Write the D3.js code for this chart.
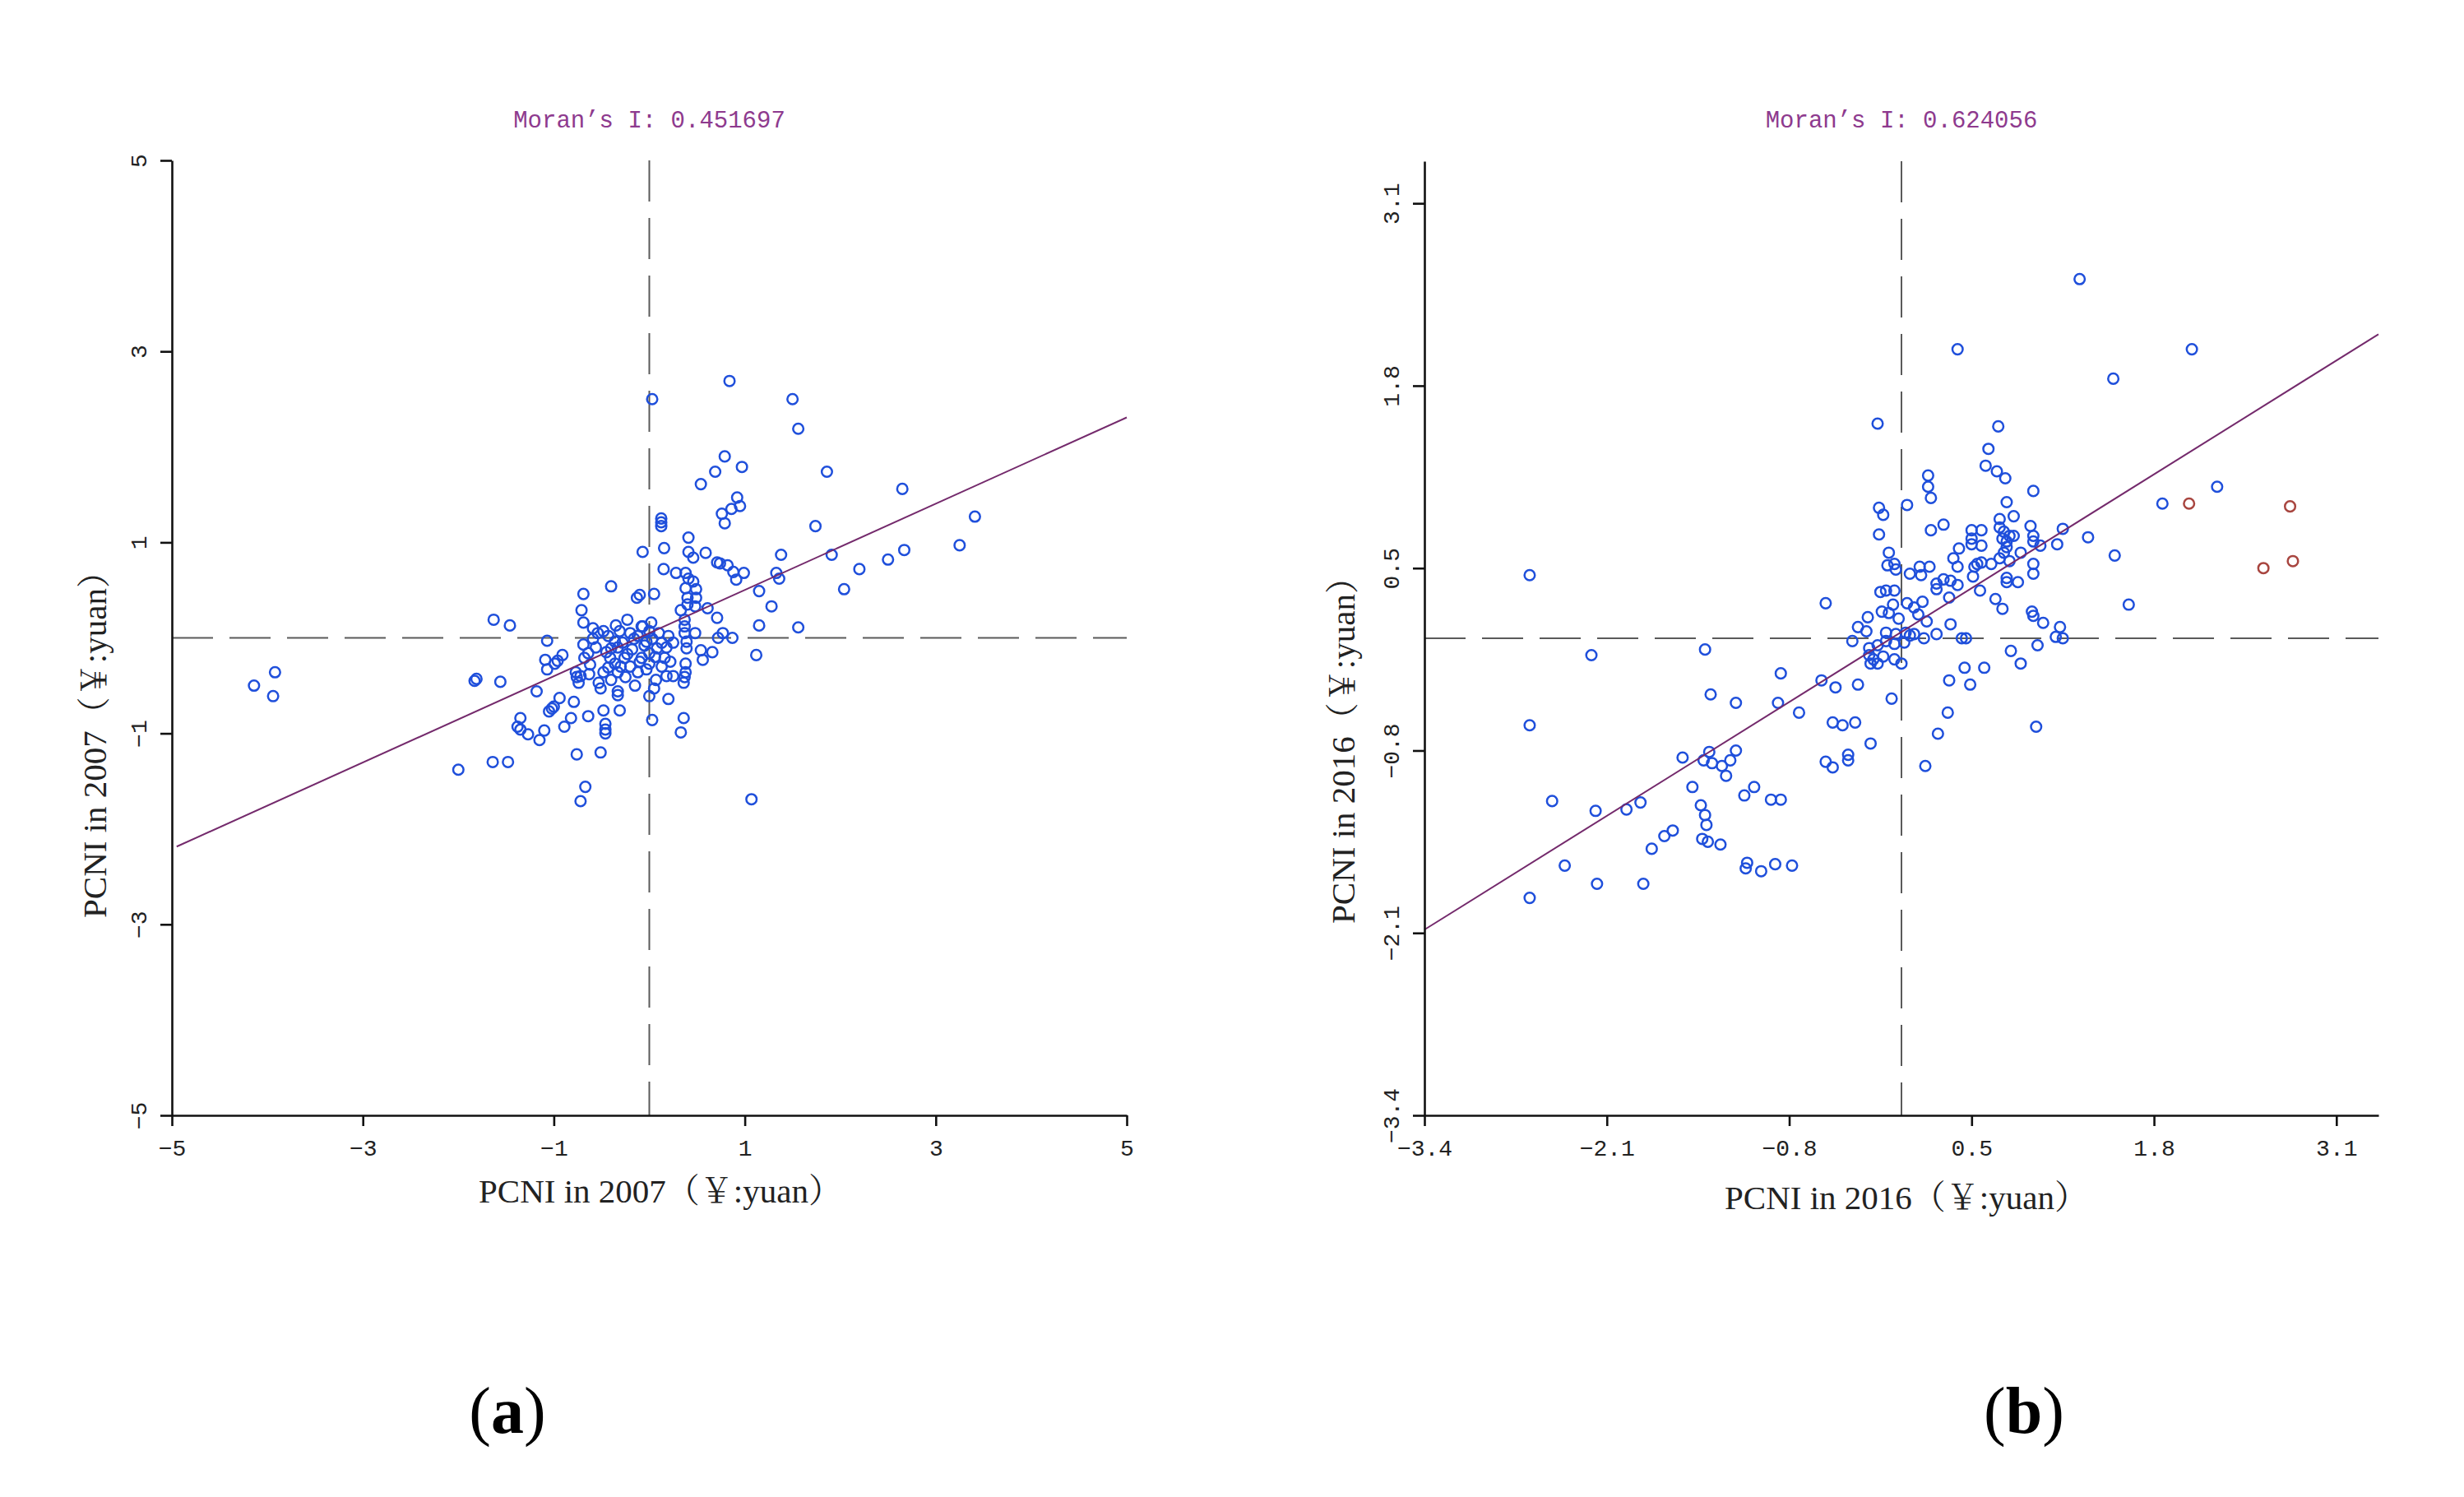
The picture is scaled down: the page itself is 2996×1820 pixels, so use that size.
<!DOCTYPE html>
<html>
<head>
<meta charset="utf-8">
<script src="https://cdn.jsdelivr.net/npm/d3@7/dist/d3.min.js"></script>
<style>
html,body{margin:0;padding:0;background:#fff;}
svg{display:block;}
</style>
</head>
<body>
<svg id="chart" width="2996" height="1820"></svg>
<script>
// ---------------- DATA ----------------
// Panel (a): PCNI in 2007 (standardised) vs spatial lag
const panelATicks = [-5, -3, -1, 1, 3, 5];
const panelAMoran = "Moran\u2019s I: 0.451697";
const panelASlope = 0.451697;
const panelAIntercept = 0.05;
const panelAX = [
 0.79,0.69,0.97,0.54,1.86,2.65,0.92,0.95,0.86,0.76,0.79,0.125,0.125,0.125,1.74,0.41,0.155,-0.07,0.41,0.46,
 0.59,0.71,0.74,0.82,0.88,0.99,0.91,1.38,1.91,2.67,2.50,2.20,2.04,1.33,1.36,1.15,1.28,1.15,1.56,1.12,
 0.15,0.28,0.38,0.41,0.46,0.38,0.49,0.49,0.40,0.40,0.48,0.33,0.61,0.71,0.37,0.37,0.48,0.37,0.39,0.39,
 0.54,0.66,0.56,0.77,0.72,0.87,0.38,0.38,0.37,0.36,0.36,0.33,1.07,0.03,0.20,0.00,0.05,0.07,0.18,0.13,
 0.16,0.18,0.13,0.20,0.05,-0.13,-0.10,-0.40,-0.69,-0.71,-0.69,-0.23,-0.07,0.02,-1.63,-1.46,-1.07,-1.83,-1.81,-1.56,
 -2.00,-1.64,-1.48,-1.18,-1.09,-0.99,-1.07,-0.91,-0.96,-0.77,-0.76,-0.72,-0.63,-0.74,-0.68,-0.64,-0.69,-0.59,-0.54,-0.59,
 -0.48,-0.43,-0.36,-0.40,-0.33,-0.35,-0.31,-0.20,-0.16,-0.12,-0.03,0.03,0.08,0.00,-0.08,0.00,-0.03,-0.12,-0.20,-0.26,
 -0.23,-0.41,-0.36,-0.43,-0.33,-0.48,-0.40,-0.53,-0.51,-0.25,-0.15,-0.33,-0.33,-0.31,-0.48,-0.64,-0.79,-0.82,-0.89,-0.94,
 -1.02,-1.05,-1.00,-1.35,-1.38,-1.35,-1.27,-1.10,-1.15,-0.46,-0.46,-0.46,-0.76,-0.51,-0.67,-0.72,-0.08,0.00,
 -4.14,-3.92,-3.94,1.50,0.84,0.03,1.56,3.25,3.41,
 -0.56,-0.28,-0.18,-0.05,0.10,-0.45,-0.30,-0.10,0.06,0.25,0.22,0.25,-0.62
];
const panelAY = [
 1.90,1.74,1.79,1.61,1.74,1.56,1.47,1.38,1.35,1.30,1.20,1.25,1.21,1.17,1.17,1.05,0.94,0.90,0.90,0.84,
 0.89,0.79,0.78,0.76,0.69,0.68,0.61,0.87,0.87,0.92,0.82,0.72,0.51,0.68,0.62,0.49,0.33,0.13,0.11,-0.18,
 0.72,0.68,0.68,0.62,0.59,0.52,0.51,0.42,0.42,0.35,0.33,0.29,0.31,0.21,0.19,0.12,0.05,0.05,-0.04,-0.11,
 -0.13,-0.15,-0.23,0.05,0.00,0.00,-0.27,-0.36,-0.41,-0.47,-0.84,-0.99,-1.69,-0.86,-0.64,-0.61,-0.53,-0.44,-0.40,-0.30,
 -0.21,-0.10,-0.05,0.02,0.46,0.42,0.45,0.54,0.46,0.29,0.16,0.19,0.12,0.16,0.19,0.13,-0.03,-0.45,-0.43,-0.46,
 -1.38,-1.30,-1.30,-0.56,-0.23,-0.27,-0.33,-0.18,-0.24,-0.36,-0.41,-0.40,-0.38,-0.47,-0.21,-0.16,-0.07,-0.01,0.05,0.10,
 0.07,0.02,-0.04,-0.11,-0.10,0.13,0.07,0.05,-0.01,0.02,-0.04,-0.01,-0.11,-0.16,-0.21,-0.27,-0.33,-0.36,-0.30,-0.21,
 -0.17,-0.21,-0.27,-0.31,-0.36,-0.36,-0.44,-0.47,-0.53,-0.41,-0.50,-0.56,-0.60,-0.76,-0.76,-0.82,-0.67,-0.84,-0.93,-0.63,
 -0.74,-0.77,-0.72,-0.84,-0.93,-0.96,-1.01,-0.97,-1.07,-0.90,-0.96,-1.00,-1.22,-1.20,-1.56,-1.71,0.12,0.07,
 -0.50,-0.36,-0.61,2.50,2.69,2.50,2.19,0.97,1.27,
 -0.10,-0.05,-0.12,-0.08,0.05,-0.15,-0.30,-0.25,-0.20,-0.05,-0.25,-0.40,-0.28
];

// Panel (b): PCNI in 2016
const panelBTicks = [-3.4, -2.1, -0.8, 0.5, 1.8, 3.1];
const panelBMoran = "Moran\u2019s I: 0.624056";
const panelBSlope = 0.624056;
const panelBIntercept = 0.045;
const panelBX = [
 1.51,-0.17,0.69,0.62,0.60,0.68,0.74,0.19,0.19,0.21,0.94,0.75,0.04,-0.16,-0.13,-0.16,0.21,0.30,0.50,0.57,
 0.70,0.80,0.70,0.73,0.77,0.80,0.72,0.75,0.92,0.94,0.94,0.99,1.15,1.11,1.33,1.52,1.62,0.50,0.50,0.57,
 0.41,0.37,0.40,0.54,0.57,0.52,0.64,0.70,0.73,0.75,0.77,0.85,0.94,0.94,0.75,0.75,0.83,0.56,0.51,0.67,
 0.72,0.93,0.94,1.01,1.13,1.10,1.15,0.97,0.78,0.85,0.43,0.46,0.35,0.25,0.34,0.30,0.25,0.25,0.35,0.40,
 0.13,0.20,0.06,0.14,-0.09,-0.10,-0.05,-0.04,-0.15,-0.11,-0.05,-0.06,-0.14,-0.09,-0.02,0.04,0.09,0.15,0.12,0.18,
 -0.24,-0.31,-0.25,-0.35,-0.11,-0.04,0.03,0.06,0.09,0.16,0.02,-0.05,-0.11,-0.17,-0.23,-0.23,-0.20,-0.17,-0.22,-0.13,
 -0.05,0.00,-0.54,-1.40,-0.86,-0.57,-0.47,-0.31,-0.07,-1.36,-1.18,-0.88,-0.73,-0.49,-0.42,-0.33,-0.22,-0.38,-0.38,-0.54,
 -0.49,0.17,0.26,0.33,0.34,0.49,0.45,0.59,0.96,-1.56,-1.37,-1.18,-1.41,-1.35,-1.28,-1.22,-1.25,
 1.27,0.40,2.07,1.86,2.25,-2.65,-2.21,-2.65,-1.49,-1.12,-1.05,-0.93,-0.86,-1.43,-1.40,-1.39,-1.42,-1.38,-1.29,-1.63,
 -1.69,-1.78,-1.96,-1.86,-2.18,-2.49,-2.40,-2.17,-1.84,-2.65,-1.10,-1.11,-1.00,-0.90,-0.78
];
const panelBY = [
 1.85,1.53,1.51,1.35,1.23,1.19,1.14,1.16,1.08,1.00,1.05,0.97,0.95,0.93,0.88,0.74,0.77,0.81,0.77,0.77,
 0.85,0.87,0.79,0.76,0.73,0.73,0.71,0.69,0.80,0.73,0.69,0.66,0.78,0.67,0.72,0.59,0.24,0.71,0.67,0.66,
 0.64,0.57,0.51,0.53,0.54,0.51,0.53,0.57,0.61,0.65,0.55,0.61,0.53,0.46,0.43,0.40,0.40,0.34,0.44,0.28,
 0.21,0.19,0.16,0.11,0.08,0.01,0.00,-0.05,-0.09,-0.18,0.00,0.00,0.10,0.03,0.29,0.42,0.39,0.35,0.41,0.38,
 0.51,0.51,0.46,0.45,0.61,0.52,0.53,0.49,0.33,0.34,0.34,0.24,0.19,0.18,0.14,0.25,0.22,0.26,0.17,0.12,
 0.15,0.08,0.05,-0.02,0.04,0.03,0.04,0.02,0.03,0.00,-0.03,-0.04,-0.02,-0.05,-0.07,-0.12,-0.15,-0.18,-0.18,-0.13,
 -0.15,-0.18,0.25,-0.08,-0.25,-0.30,-0.35,-0.33,-0.43,-0.40,-0.46,-0.46,-0.53,-0.60,-0.62,-0.60,-0.75,-0.83,-0.87,-0.88,
 -0.92,-0.91,-0.68,-0.53,-0.30,-0.33,-0.21,-0.21,-0.63,-0.85,-0.81,-0.80,-0.87,-0.89,-0.91,-0.87,-0.98,
 2.56,2.06,2.06,0.96,1.08,0.45,-0.12,-0.62,-1.06,-1.12,-1.06,-1.15,-1.15,-1.19,-1.26,-1.33,-1.43,-1.45,-1.47,-1.37,
 -1.41,-1.50,-1.22,-1.17,-1.23,-1.16,-1.62,-1.75,-1.75,-1.85,-1.60,-1.64,-1.66,-1.61,-1.62
];
// highlighted (red) cities in panel (b)
const panelBRedX = [2.05, 2.77, 2.58, 2.79];
const panelBRedY = [0.96, 0.94, 0.50, 0.55];

// ---------------- DRAWING ----------------
const svg = d3.select("#chart");
svg.append("rect").attr("width", 2996).attr("height", 1820).attr("fill", "#fff");

const BLUE = "#1f4fdb", RED = "#a8453f", PURPLE = "#8e3a8e", LINE = "#742a6c";

function drawPanel(cfg) {
  const x = d3.scaleLinear().domain(cfg.domain).range([cfg.left, cfg.right]);
  const y = d3.scaleLinear().domain(cfg.domain).range([cfg.bottom, cfg.top]);
  const g = svg.append("g");
  const fmt = v => (v < 0 ? "\u2212" : "") + Math.abs(v).toString();

  // quadrant dashed lines
  g.append("line")
    .attr("x1", x(0)).attr("x2", x(0)).attr("y1", y.range()[1]).attr("y2", y.range()[0])
    .attr("stroke", "#5a5a5a").attr("stroke-width", 2).attr("stroke-dasharray", "50,20");
  g.append("line")
    .attr("x1", x.range()[0]).attr("x2", x.range()[1]).attr("y1", y(0)).attr("y2", y(0))
    .attr("stroke", "#5a5a5a").attr("stroke-width", 2).attr("stroke-dasharray", "50,20");

  // points
  const pts = cfg.xs.map((v, i) => ({x: v, y: cfg.ys[i]}));
  g.append("g").selectAll("circle").data(pts).join("circle")
    .attr("cx", d => x(d.x)).attr("cy", d => y(d.y)).attr("r", 6.3)
    .attr("fill", "none").attr("stroke", BLUE).attr("stroke-width", 2.5);
  if (cfg.redX) {
    const rp = cfg.redX.map((v, i) => ({x: v, y: cfg.redY[i]}));
    g.append("g").selectAll("circle").data(rp).join("circle")
      .attr("cx", d => x(d.x)).attr("cy", d => y(d.y)).attr("r", 6.3)
      .attr("fill", "none").attr("stroke", RED).attr("stroke-width", 2.5);
  }

  // regression (Moran) line
  const d0 = cfg.lineStart, d1 = cfg.domain[1];
  g.append("line")
    .attr("x1", x(d0)).attr("y1", y(cfg.slope * d0 + cfg.intercept))
    .attr("x2", x(d1)).attr("y2", y(cfg.slope * d1 + cfg.intercept))
    .attr("stroke", LINE).attr("stroke-width", 2);

  // axes
  const xAxis = g.append("g").attr("transform", `translate(0,${cfg.bottom})`)
    .call(d3.axisBottom(x).tickValues(cfg.ticks).tickFormat(fmt).tickSize(13).tickSizeOuter(0).tickPadding(16));
  const yAxis = g.append("g").attr("transform", `translate(${cfg.left},0)`)
    .call(d3.axisLeft(y).tickValues(cfg.ticks).tickFormat(fmt).tickSize(14).tickSizeOuter(0));
  [xAxis, yAxis].forEach(a => {
    a.select(".domain").attr("stroke", "#111").attr("stroke-width", 2.6);
    a.selectAll(".tick line").attr("stroke", "#111").attr("stroke-width", 2.6);
    a.selectAll("text").attr("font-family", "'Liberation Mono', 'DejaVu Sans Mono', monospace")
      .attr("font-size", 28).attr("fill", "#222");
  });
  yAxis.selectAll(".tick text")
    .attr("x", null).attr("dy", "0.35em")
    .attr("text-anchor", "middle")
    .attr("transform", "translate(-41,0) rotate(-90)");

  // Moran title
  g.append("text")
    .attr("x", (cfg.left + cfg.right) / 2).attr("y", 155)
    .attr("text-anchor", "middle")
    .attr("font-family", "'Liberation Mono', 'DejaVu Sans Mono', monospace")
    .attr("font-size", 29).attr("fill", PURPLE)
    .text(cfg.title);

  // axis titles
  const serif = "'Liberation Serif', 'Noto Serif CJK SC', 'Noto Sans CJK SC', serif";
  g.append("text")
    .attr("x", cfg.xLabelX).attr("y", cfg.xLabelY)
    .attr("text-anchor", "middle").attr("font-family", serif).attr("font-size", 41).attr("fill", "#222")
    .text(cfg.label);
  g.append("text")
    .attr("transform", `translate(${cfg.yLabelX},${cfg.yLabelY}) rotate(-90)`)
    .attr("text-anchor", "middle").attr("font-family", serif).attr("font-size", 41).attr("fill", "#222")
    .text(cfg.label);

  // panel tag
  const tag = svg.append("text")
    .attr("x", cfg.tagX).attr("y", 1742).attr("text-anchor", "middle")
    .attr("font-family", "'Liberation Serif', 'DejaVu Serif', serif").attr("font-size", 80).attr("fill", "#000");
  tag.append("tspan").text("(");
  tag.append("tspan").attr("font-weight", "bold").text(cfg.tag);
  tag.append("tspan").text(")");
}

drawPanel({
  domain: [-5, 5], ticks: panelATicks, left: 209, right: 1370, top: 195, bottom: 1356,
  xs: panelAX, ys: panelAY, slope: panelASlope, intercept: panelAIntercept, lineStart: -4.95,
  title: panelAMoran, label: "PCNI in 2007\uFF08\uFFE5:yuan\uFF09",
  xLabelX: 803, xLabelY: 1462, yLabelX: 129, yLabelY: 895, tag: "a", tagX: 617
});
drawPanel({
  domain: [-3.4, 3.4], ticks: panelBTicks, left: 1732, right: 2892, top: 196, bottom: 1356,
  xs: panelBX, ys: panelBY, redX: panelBRedX, redY: panelBRedY,
  slope: panelBSlope, intercept: panelBIntercept, lineStart: -3.4,
  title: panelBMoran, label: "PCNI in 2016\uFF08\uFFE5:yuan\uFF09",
  xLabelX: 2318, xLabelY: 1470, yLabelX: 1647, yLabelY: 902, tag: "b", tagX: 2461
});
</script>
</body>
</html>
